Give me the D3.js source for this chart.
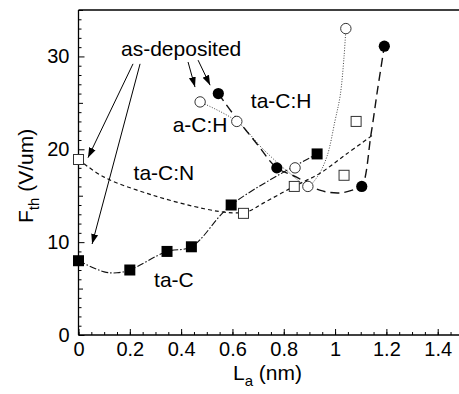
<!DOCTYPE html>
<html>
<head>
<meta charset="utf-8">
<script src="https://cdn.jsdelivr.net/npm/d3@7"></script>
<style>
  html, body { margin: 0; padding: 0; background: #fff; }
  svg { display: block; }
</style>
</head>
<body>
<div id="chart"></div>
<script>
// markers, [La (nm), Fth (V/um)]
const taC = [[0, 8.0], [0.2, 7.0], [0.345, 9.0], [0.44, 9.5], [0.595, 14.0], [0.93, 19.5]];
const taCN = [[0, 18.9], [0.643, 13.1], [0.841, 16.0], [1.035, 17.2], [1.082, 23.0]];
const aCH = [[0.474, 25.1], [0.617, 23.0], [0.844, 18.0], [0.894, 16.0], [1.042, 33.0]];
const taCH = [[0.545, 26.0], [0.773, 18.0], [1.104, 16.0], [1.192, 31.1]];

// guide curves
const taCCurve = [[0, 8.0], [0.1, 6.8], [0.15, 6.7], [0.2, 7.0], [0.345, 9.0], [0.44, 9.5], [0.595, 14.0], [0.93, 19.5]];
const taCNCurve = [[0, 18.9], [0.1, 17.0], [0.29, 15.05], [0.49, 13.6], [0.6, 13.15], [0.66, 13.3], [0.72, 14.2], [0.84, 16.0], [0.94, 17.4], [1.04, 19.4], [1.15, 21.6]];
const aCHCurve = [[0.474, 25.1], [0.617, 23.0], [0.72, 20.0], [0.82, 17.5], [0.894, 16.1], [0.93, 17.0], [0.968, 19.2], [1.0, 23.1], [1.02, 25.8], [1.035, 30], [1.042, 33.0]];
const taCHCurve = [[0.545, 26.0], [0.6, 23.9], [0.695, 20.6], [0.773, 18.0], [0.85, 17.0], [0.94, 15.6], [1.02, 15.3], [1.078, 15.7], [1.104, 16.0], [1.14, 21.6], [1.166, 26.5], [1.192, 31.1]];

// axis ticks
const xTicks = [0, 0.2, 0.4, 0.6, 0.8, 1, 1.2, 1.4];
const yTicks = [0, 10, 20, 30];

// labels and arrows
const labels = [
  { text: "as-deposited", x: 0.40, y: 30.1 },
  { text: "ta-C:H", x: 0.79, y: 24.5 },
  { text: "a-C:H", x: 0.474, y: 21.9 },
  { text: "ta-C:N", x: 0.333, y: 16.7 },
  { text: "ta-C", x: 0.372, y: 5.2 },
];
const arrows = [
  [[0.2125, 29.2], [0.037, 19.1]],
  [[0.240, 29.2], [0.053, 9.8]],
  [[0.427, 29.4], [0.454, 26.7]],
  [[0.466, 29.6], [0.513, 26.9]],
];

const W = 459, H = 394;
const margin = { t: 10, r: 0, b: 59, l: 78.5 };
const font = "'Liberation Sans', Arial, Helvetica, sans-serif";

const svg = d3.select("#chart").append("svg")
  .attr("width", W).attr("height", H)
  .attr("viewBox", [0, 0, W, H])
  .attr("font-family", font);

const x = d3.scaleLinear().domain([0, 1.483]).range([margin.l, W - margin.r]);
const y = d3.scaleLinear().domain([0, 35]).range([H - margin.b, margin.t]);

// minor ticks
const xMinor = d3.range(0, 1.46, 0.05);
const yMinor = d3.range(0, 35.5, 1);

svg.append("g")
  .attr("transform", `translate(0,${y(0)})`)
  .call(d3.axisBottom(x).tickValues(xMinor).tickSize(-3).tickFormat(""))
  .call(g => g.select(".domain").remove());
svg.append("g")
  .attr("transform", `translate(${x(0)},0)`)
  .call(d3.axisLeft(y).tickValues(yMinor.filter(v => v % 5 !== 0)).tickSize(-3).tickFormat(""))
  .call(g => g.select(".domain").remove());
svg.append("g")
  .attr("transform", `translate(${x(0)},0)`)
  .call(d3.axisLeft(y).tickValues([5, 15, 25, 35]).tickSize(-4.5).tickFormat(""))
  .call(g => g.select(".domain").remove());

const ax = svg.append("g")
  .attr("transform", `translate(0,${y(0)})`)
  .call(d3.axisBottom(x).tickValues(xTicks).tickSize(-6).tickPadding(7)
    .tickFormat(d3.format("")));
const ay = svg.append("g")
  .attr("transform", `translate(${x(0)},0)`)
  .call(d3.axisLeft(y).tickValues(yTicks).tickSize(-6).tickPadding(9));

[ax, ay].forEach(g => {
  g.selectAll("text").attr("font-size", 20).attr("fill", "#000").attr("font-family", font);
  g.select(".domain").attr("stroke", "#000").attr("stroke-width", 1.3);
});
ay.selectAll(".domain").attr("d", `M0,${y(0)}V${margin.t}`);
ax.selectAll(".domain").attr("d", `M${x(0)},0H${W}`);
svg.selectAll(".tick line").attr("stroke", "#000");

// top frame line
svg.append("line")
  .attr("x1", x(0)).attr("x2", W)
  .attr("y1", y(35)).attr("y2", y(35))
  .attr("stroke", "#000").attr("stroke-width", 1.3);

// axis titles
const xt = svg.append("text")
  .attr("x", 233).attr("y", 380)
  .attr("font-size", 21);
xt.append("tspan").text("L");
xt.append("tspan").attr("font-size", 15).attr("dy", 6).text("a");
xt.append("tspan").attr("dy", -6).text(" (nm)");

const yt = svg.append("text")
  .attr("transform", `translate(33,223) rotate(-90)`)
  .attr("font-size", 21);
yt.append("tspan").text("F");
yt.append("tspan").attr("font-size", 15).attr("dy", 6).text("th");
yt.append("tspan").attr("dy", -6).text(" (V/um)");

// curves
const line = d3.line()
  .curve(d3.curveCatmullRom.alpha(0.5))
  .x(d => x(d[0]))
  .y(d => y(d[1]));

const curves = [
  { data: taCCurve, dash: "7,2,1.5,2", width: 1.1, color: "#111" },
  { data: taCNCurve, dash: "4,3", width: 1.2, color: "#111" },
  { data: aCHCurve, dash: "1,1.6", width: 1, color: "#444" },
  { data: taCHCurve, dash: "9,5", width: 1.4, color: "#111" },
];
svg.append("g").selectAll("path")
  .data(curves)
  .join("path")
  .attr("d", d => line(d.data))
  .attr("fill", "none")
  .attr("stroke", d => d.color)
  .attr("stroke-width", d => d.width)
  .attr("stroke-dasharray", d => d.dash);

// markers
const sq = 11;
svg.append("g").selectAll("rect")
  .data(taCN)
  .join("rect")
  .attr("x", d => x(d[0]) - sq / 2 + 0.5)
  .attr("y", d => y(d[1]) - sq / 2 + 0.5)
  .attr("width", sq - 1).attr("height", sq - 1)
  .attr("fill", "#fff").attr("stroke", "#333").attr("stroke-width", 1);
svg.append("g").selectAll("rect")
  .data(taC)
  .join("rect")
  .attr("x", d => x(d[0]) - sq / 2)
  .attr("y", d => y(d[1]) - sq / 2)
  .attr("width", sq).attr("height", sq)
  .attr("fill", "#000");
svg.append("g").selectAll("circle")
  .data(aCH)
  .join("circle")
  .attr("cx", d => x(d[0])).attr("cy", d => y(d[1]))
  .attr("r", 5.2)
  .attr("fill", "#fff").attr("stroke", "#333").attr("stroke-width", 1);
svg.append("g").selectAll("circle")
  .data(taCH)
  .join("circle")
  .attr("cx", d => x(d[0])).attr("cy", d => y(d[1]))
  .attr("r", 5.6)
  .attr("fill", "#000");

// annotations
svg.append("defs").append("marker")
  .attr("id", "head")
  .attr("viewBox", "0 0 10 10")
  .attr("refX", 10).attr("refY", 5)
  .attr("markerWidth", 10).attr("markerHeight", 10)
  .attr("markerUnits", "userSpaceOnUse")
  .attr("orient", "auto")
  .append("path")
  .attr("d", "M0,1.5L10,5L0,8.5Z")
  .attr("fill", "#000");

svg.append("g").selectAll("line")
  .data(arrows)
  .join("line")
  .attr("x1", d => x(d[0][0])).attr("y1", d => y(d[0][1]))
  .attr("x2", d => x(d[1][0])).attr("y2", d => y(d[1][1]))
  .attr("stroke", "#000").attr("stroke-width", 1)
  .attr("marker-end", "url(#head)");

svg.append("g").selectAll("text")
  .data(labels)
  .join("text")
  .attr("x", d => x(d.x)).attr("y", d => y(d.y))
  .attr("text-anchor", "middle")
  .attr("font-size", 21)
  .attr("fill", "#000")
  .text(d => d.text);
</script>
</body>
</html>
